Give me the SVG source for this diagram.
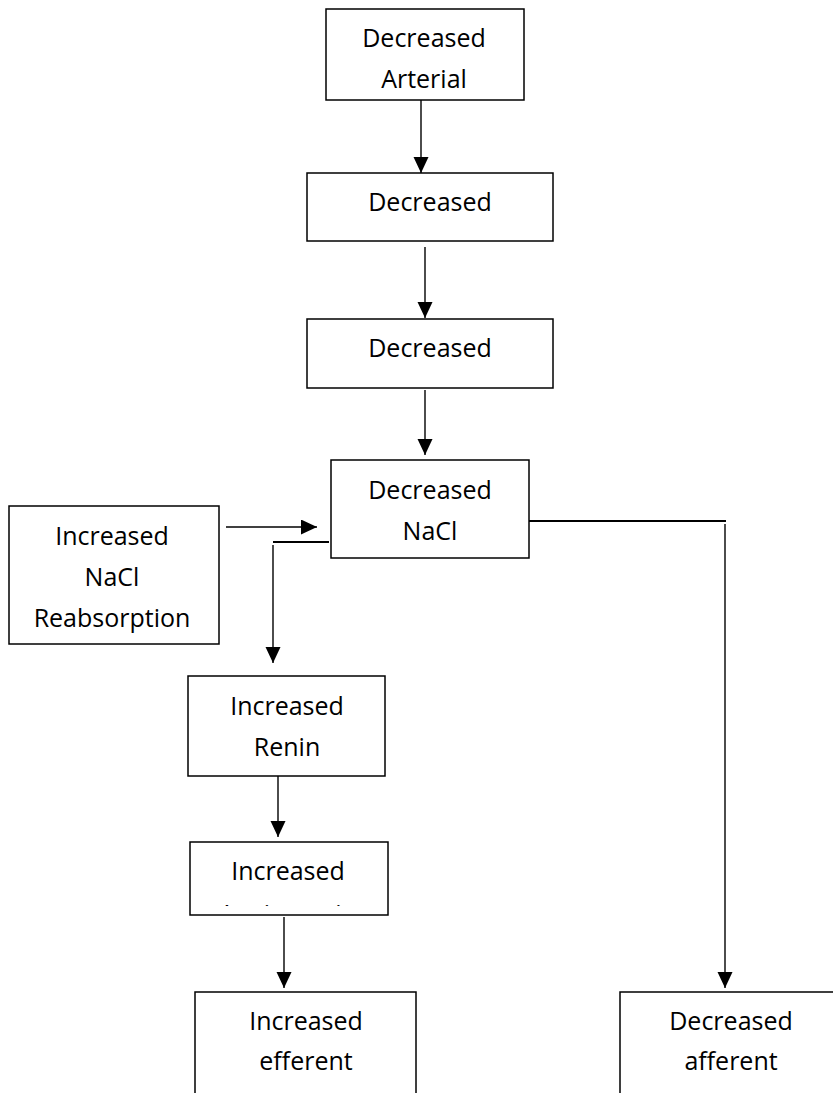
<svg xmlns="http://www.w3.org/2000/svg" width="833" height="1093" viewBox="0 0 833 1093">
  <style>
    .box { fill: #ffffff; stroke: #000000; stroke-width: 1.5; }
    .lbl { font-family: "Open Sans", "Liberation Sans", sans-serif; font-size: 25px; fill: #000000; text-anchor: middle; }
    .wire { fill: none; stroke: #000000; stroke-width: 1.4; }
    .wire-bold { fill: none; stroke: #000000; stroke-width: 2.2; }
    .arrow { fill: none; stroke: #000000; stroke-width: 1.4; marker-end: url(#head); }
  </style>
  <defs>
    <marker id="head" markerUnits="userSpaceOnUse" markerWidth="16" markerHeight="16" refX="16" refY="7.5" orient="auto">
      <path d="M0,0 L16,7.5 L0,15 Z" fill="#000000"/>
    </marker>
    <!-- interior of the angiotensin box: the second line overflows and is cut off -->
    <clipPath id="clip-angio">
      <rect x="190" y="842" width="198" height="64"/>
    </clipPath>
  </defs>
  <rect width="833" height="1093" fill="#ffffff"/>

  <g id="connectors">
    <path class="arrow" d="M421,100 V173"/>
    <path class="arrow" d="M425,247 V318"/>
    <path class="arrow" d="M425,390 V455"/>
    <path class="arrow" d="M226,527 H317"/>
    <path class="wire-bold" d="M329,542 H273"/>
    <path class="arrow" d="M273,545 V663"/>
    <path class="wire-bold" d="M529,521 H726"/>
    <path class="arrow" d="M725,524 V988"/>
    <path class="arrow" d="M278,776 V837"/>
    <path class="arrow" d="M284,917 V988"/>
  </g>

  <g id="node-arterial">
    <rect class="box" x="326" y="9" width="198" height="91"/>
    <text class="lbl" x="424" y="47">Decreased</text>
    <text class="lbl" x="424" y="88">Arterial</text>
  </g>

  <g id="node-decreased-1">
    <rect class="box" x="307" y="173" width="246" height="68"/>
    <text class="lbl" x="430" y="211">Decreased</text>
  </g>

  <g id="node-decreased-2">
    <rect class="box" x="307" y="319" width="246" height="69"/>
    <text class="lbl" x="430" y="357">Decreased</text>
  </g>

  <g id="node-nacl">
    <rect class="box" x="331" y="460" width="198" height="98"/>
    <text class="lbl" x="430" y="499">Decreased</text>
    <text class="lbl" x="430" y="540">NaCl</text>
  </g>

  <g id="node-reabsorption">
    <rect class="box" x="9" y="506" width="210" height="138"/>
    <text class="lbl" x="112" y="545">Increased</text>
    <text class="lbl" x="112" y="586">NaCl</text>
    <text class="lbl" x="112" y="627">Reabsorption</text>
  </g>

  <g id="node-renin">
    <rect class="box" x="188" y="676" width="197" height="100"/>
    <text class="lbl" x="287" y="715">Increased</text>
    <text class="lbl" x="287" y="756">Renin</text>
  </g>

  <g id="node-angiotensin">
    <rect class="box" x="190" y="842" width="198" height="73"/>
    <text class="lbl" x="288" y="880">Increased</text>
    <text class="lbl" x="288" y="923" clip-path="url(#clip-angio)">Angiotensin</text>
  </g>

  <g id="node-efferent">
    <rect class="box" x="195" y="992" width="221" height="120"/>
    <text class="lbl" x="306" y="1030">Increased</text>
    <text class="lbl" x="306" y="1070">efferent</text>
  </g>

  <g id="node-afferent">
    <rect class="box" x="620" y="992" width="222" height="120"/>
    <text class="lbl" x="731" y="1030">Decreased</text>
    <text class="lbl" x="731" y="1070">afferent</text>
  </g>
</svg>
